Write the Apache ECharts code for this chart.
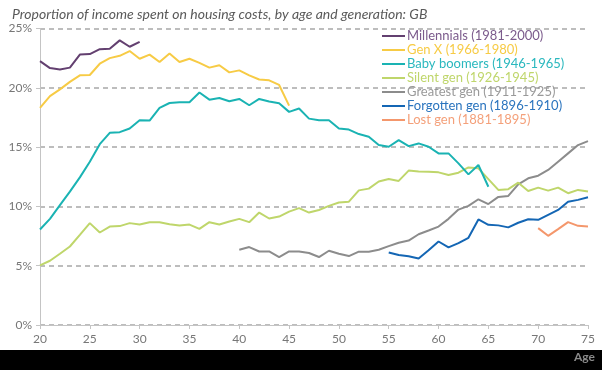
<!DOCTYPE html>
<html>
<head>
<meta charset="utf-8">
<script src="https://cdn.jsdelivr.net/npm/echarts@6/dist/echarts.min.js"></script>
<style>html,body{margin:0;padding:0;background:#fff}#c{width:602px;height:370px}</style>
</head>
<body>
<div id="c"></div>
<script>
const title = 'Proportion of income spent on housing costs, by age and generation: GB';
const xTicks = [20, 25, 30, 35, 40, 45, 50, 55, 60, 65, 70, 75];
const yTicks = [0, 5, 10, 15, 20, 25];

const names = ['Millennials (1981-2000)', 'Gen X (1966-1980)', 'Baby boomers (1946-1965)', 'Silent gen (1926-1945)', 'Greatest gen (1911-1925)', 'Forgotten gen (1896-1910)', 'Lost gen (1881-1895)'];
const startAges = [20, 20, 20, 20, 40, 55, 70];

const millennials = [22.25, 21.66, 21.55, 21.7, 22.8, 22.84, 23.26, 23.3, 24.0, 23.46, 23.88];
const genX = [18.3, 19.3, 19.87, 20.5, 21.05, 21.08, 22.03, 22.5, 22.7, 23.1, 22.45, 22.8, 22.17, 22.9, 22.17, 22.45, 22.1, 21.7, 21.9, 21.3, 21.47, 21.05, 20.7, 20.63, 20.24, 18.5];
const babyBoomers = [8.05, 8.95, 10.1, 11.24, 12.45, 13.77, 15.25, 16.2, 16.26, 16.57, 17.27, 17.24, 18.3, 18.72, 18.78, 18.78, 19.6, 19.0, 19.14, 18.87, 19.06, 18.53, 19.06, 18.84, 18.7, 17.97, 18.25, 17.4, 17.27, 17.27, 16.57, 16.48, 16.1, 15.87, 15.17, 15.03, 15.59, 15.08, 15.31, 15.03, 14.47, 14.47, 13.63, 12.7, 13.49, 11.66];
const silentGen = [5.03, 5.42, 6.01, 6.62, 7.6, 8.59, 7.8, 8.3, 8.34, 8.59, 8.47, 8.67, 8.67, 8.5, 8.39, 8.47, 8.11, 8.67, 8.47, 8.72, 8.95, 8.67, 9.48, 8.98, 9.14, 9.56, 9.85, 9.48, 9.7, 10.04, 10.33, 10.4, 11.35, 11.5, 12.1, 12.31, 12.15, 13.02, 12.95, 12.93, 12.87, 12.65, 12.84, 13.29, 13.21, 12.3, 11.39, 11.45, 12.0, 11.3, 11.58, 11.33, 11.58, 11.11, 11.39, 11.25];
const greatestGen = [6.34, 6.57, 6.2, 6.2, 5.73, 6.2, 6.2, 6.07, 5.73, 6.26, 6.01, 5.81, 6.18, 6.18, 6.34, 6.65, 6.93, 7.12, 7.65, 7.97, 8.3, 8.95, 9.73, 10.04, 10.6, 10.2, 10.8, 10.88, 11.85, 12.37, 12.59, 13.07, 13.77, 14.47, 15.17, 15.5];
const forgottenGen = [6.12, 5.9, 5.8, 5.6, 6.3, 7.04, 6.54, 6.9, 7.35, 8.9, 8.45, 8.4, 8.23, 8.62, 8.92, 8.87, 9.29, 9.7, 10.4, 10.55, 10.77];
const lostGen = [8.17, 7.52, 8.08, 8.67, 8.36, 8.3];

const allValues = [millennials, genX, babyBoomers, silentGen, greatestGen, forgottenGen, lostGen];
const colors = ['#634070', '#F7CB45', '#1AB3B3', '#BFD66B', '#8C8C8C', '#1466B4', '#F4976C'];
const textColors = ['#7B5A8C', '#F7CB45', '#2AB8BE', '#BFD66B', '#999999', '#2A74BE', '#F4A07A'];

const series = allValues.map((vals, i) => ({
  name: names[i],
  type: 'line',
  symbol: 'none',
  smooth: false,
  lineStyle: { width: 2, color: colors[i] },
  itemStyle: { color: colors[i] },
  z: 10 - i,
  data: vals.map((v, k) => [startAges[i] + k, v])
}));

const chart = echarts.init(document.getElementById('c'), null, { renderer: 'canvas' });
chart.setOption({
  animation: false,
  backgroundColor: '#fff',
  title: {
    text: title, left: 7, top: 2,
    textStyle: { fontFamily: 'Lato', fontStyle: 'italic', fontWeight: 'normal', fontSize: 14, color: '#5a5a5a' }
  },
  grid: { left: 40, right: 14, top: 28.5, bottom: 45, containLabel: false },
  legend: {
    orient: 'vertical', left: 382, top: 29, padding: 0,
    icon: 'path://M0 0 H23 V2 H0 Z',
    itemWidth: 23, itemHeight: 2, itemGap: 0,
    textStyle: { fontFamily: 'Lato', fontSize: 13, lineHeight: 14, padding: [0, 0, 0, -3] },
    data: names.map((n, i) => ({ name: n, textStyle: { color: textColors[i] } }))
  },
  xAxis: {
    type: 'value', min: xTicks[0], max: xTicks[xTicks.length - 1], interval: 5,
    axisLine: { show: true, lineStyle: { color: '#c4c4c4', width: 1 } },
    axisTick: { show: true, length: 4, lineStyle: { color: '#c4c4c4' } },
    axisLabel: { color: '#777', fontFamily: 'Lato', fontSize: 12, margin: 8 },
    splitLine: { show: false }
  },
  yAxis: {
    type: 'value', min: yTicks[0], max: yTicks[yTicks.length - 1], interval: 5,
    axisLine: { show: true, lineStyle: { color: '#c4c4c4', width: 1 } },
    axisTick: { show: true, length: 4, lineStyle: { color: '#c4c4c4' } },
    axisLabel: { color: '#777', fontFamily: 'Lato', fontSize: 12, margin: 8, formatter: v => v + '%' },
    splitLine: { show: true, lineStyle: { color: '#a8a8a8', width: 1.5, type: [5, 4] } }
  },
  graphic: [
    { type: 'rect', left: 0, top: 350, shape: { width: 602, height: 20 }, style: { fill: '#000' }, z: 100 },
    { type: 'text', left: 574, top: 351, style: { text: 'Age', fill: '#8a8a8a', font: 'bold 12px Lato' }, z: 101 }
  ],
  series: series
});
</script>
</body>
</html>
